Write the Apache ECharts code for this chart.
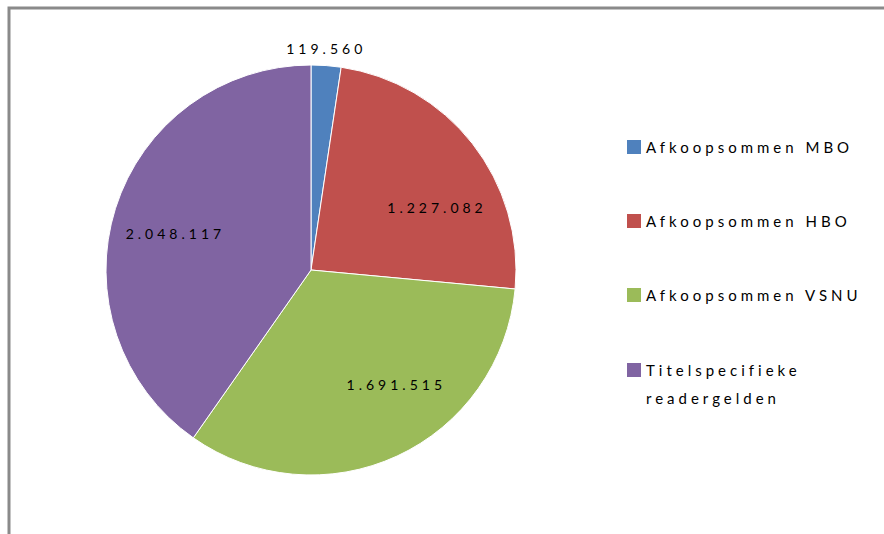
<!DOCTYPE html>
<html><head><meta charset="utf-8">
<script src="https://cdn.jsdelivr.net/npm/echarts@6/dist/echarts.min.js"></script>
<style>
html,body{margin:0;padding:0;background:#fff;}
#chart{width:884px;height:534px;}
#chart text{letter-spacing:4px;}
</style></head><body><div id="chart"></div>
<script>
const categories = ['Afkoopsommen MBO', 'Afkoopsommen HBO', 'Afkoopsommen VSNU', 'Titelspecifieke readergelden'];
const values = [119560, 1227082, 1691515, 2048117];
const colors = ['#4F81BD', '#C0504D', '#9BBB59', '#8064A2'];
const labelNudge = [[-76, -2], [43, 3], [41, 19], [-35, -5]];

function fmt(v) { return String(v).replace(/\B(?=(\d{3})+(?!\d))/g, '.'); }
const font = 'Lato, "Open Sans", sans-serif';
const chart = echarts.init(document.getElementById('chart'), null, { renderer: 'svg' });
const legendText = { fontFamily: font, fontSize: 15, color: '#000' };
chart.setOption({
  animation: false,
  color: colors,
  graphic: [{
    type: 'rect', silent: true,
    shape: { x: 9, y: 8, width: 1000, height: 1000 },
    style: { fill: 'none', stroke: '#8a8a8a', lineWidth: 3 }
  }],
  legend: [{
    orient: 'vertical', left: 627, top: 137, padding: 0,
    data: categories.slice(0, 3), icon: 'rect', itemWidth: 14, itemHeight: 14, itemGap: 54,
    itemStyle: { borderWidth: 0 },
    textStyle: Object.assign({ lineHeight: 20 }, legendText)
  }, {
    orient: 'vertical', left: 627, top: 328, padding: 0,
    data: [categories[3]],
    icon: 'rect', itemWidth: 14, itemHeight: 14,
    itemStyle: { borderWidth: 0 },
    formatter: function (n) { return '\n' + n.replace(' ', '\n'); },
    textStyle: Object.assign({ lineHeight: 28 }, legendText)
  }],
  series: [{
    type: 'pie', center: [311, 270], radius: 205, startAngle: 90, clockwise: true,
    data: categories.map(function (c, i) {
      return { name: c, value: values[i], label: { position: i === 0 ? 'outside' : 'inside' } };
    }),
    itemStyle: { borderColor: '#fff', borderWidth: 1 },
    label: { show: true, formatter: function (p) { return fmt(p.value); }, color: '#000', fontFamily: font, fontSize: 14 },
    labelLine: { show: false },
    labelLayout: function (p) { return { dx: labelNudge[p.dataIndex][0], dy: labelNudge[p.dataIndex][1] }; },
    emphasis: { disabled: true }
  }]
});
</script></body></html>
